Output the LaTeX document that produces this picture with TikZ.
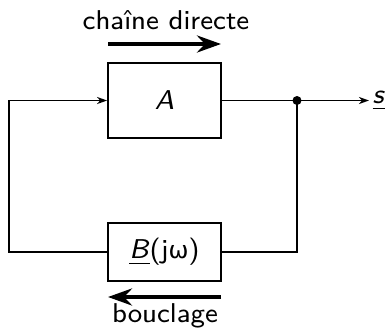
\documentclass[tikz,border=0pt]{standalone}
\usepackage{fontspec}
\usepackage{graphicx}
\newfontfamily\djv{DejaVu Sans}
\usetikzlibrary{arrows.meta}
\begin{document}
\begin{tikzpicture}[x=1pt,y=-1pt,
  txt/.style={font=\sffamily\fontsize{8}{10}\selectfont,scale=3.4,transform shape,inner sep=0pt},
  blk/.style={draw,line width=1.8pt,minimum width=113pt,minimum height=75pt,inner sep=0pt},
  wire/.style={line width=1.8pt},
  sig/.style={wire,-{Stealth[length=10pt,width=7pt,inset=3pt]}},
  flow/.style={line width=4pt,-{Stealth[length=24pt,width=17pt,inset=8pt]}}]
\useasboundingbox (0,0) rectangle (386,330);
\node[blk] (A) at (164.5,100.5) {};
\node[txt] (At) at (A.center) {\textit{A}};
\node[blk,minimum height=58pt] (B) at (164.5,252) {};
\node[txt] (Bt) at (B.center) {\underline{\textit{B}}(j{\djv\fontsize{7}{9}\selectfont ω})};
\coordinate (n) at (297,100.5);
\coordinate (sout) at (369,100.5);
\coordinate (lb) at (9,252);
\coordinate (lt) at (9,100.5);
\coordinate (rb) at (297,252);
\draw[sig] (A.east) -- (sout);
\node[txt,anchor=west] (s) at (372,100.5) {\underline{\textit{s}}};
\fill (n) circle (4.5pt);
\draw[wire] (n) -- (rb) -- (B.east);
\draw[sig] (B.west) -- (lb) -- (lt) -- (A.west);
\coordinate (c1) at (108,44);
\coordinate (c2) at (221,44);
\draw[flow] (c1) -- (c2);
\node[txt,anchor=base] (ct) at (166,29.5) {chaîne directe};
\coordinate (b1) at (221,297);
\coordinate (b2) at (108,297);
\draw[flow] (b1) -- (b2);
\node[txt,anchor=base] (bt) at (165,322.5) {bouclage};
\end{tikzpicture}
\end{document}
